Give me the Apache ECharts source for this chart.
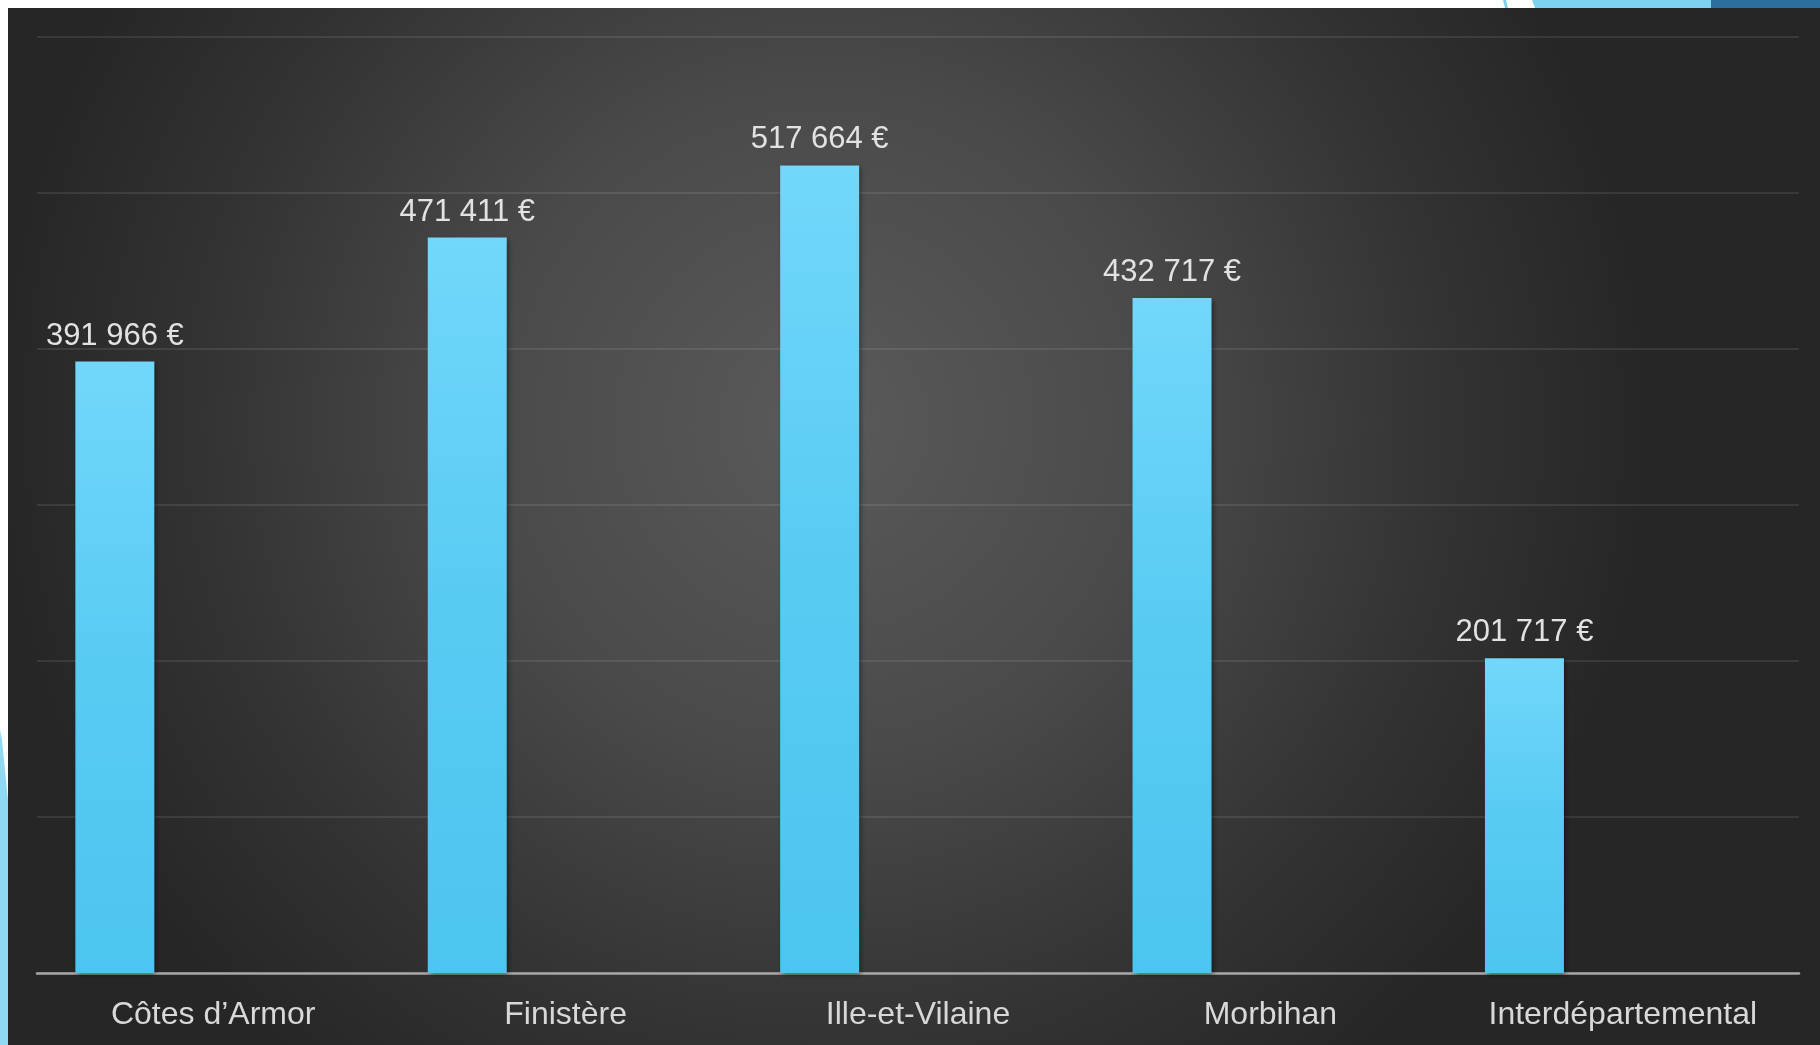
<!DOCTYPE html>
<html>
<head>
<meta charset="utf-8">
<style>
html,body{margin:0;padding:0;background:#ffffff;}
#chart{width:1820px;height:1045px;}
</style>
<script src="https://cdn.jsdelivr.net/npm/echarts@6/dist/echarts.min.js"></script>
</head>
<body>
<div id="chart"></div>
<script>
var categories = ['Côtes d\u2019Armor', 'Finistère', 'Ille-et-Vilaine', 'Morbihan', 'Interdépartemental'];
var montants = [391966, 471411, 517664, 432717, 201717];
var placeholder = [null, null, null, null, null];
var yMin = 0, yMax = 600000, yInterval = 100000;

function fmt(v) {
  return String(v).replace(/\B(?=(\d{3})+(?!\d))/g, ' ') + ' €';
}

var chart = echarts.init(document.getElementById('chart'));
var font = "'Liberation Sans', 'Noto Sans', sans-serif";

chart.setOption({
  backgroundColor: '#ffffff',
  animation: false,
  graphic: [
    { type: 'rect', z: -10, shape: { x: 8, y: 8, width: 1812, height: 1037 },
      style: { fill: new echarts.graphic.RadialGradient(0.45, 0.4, 0.8, [
        { offset: 0, color: '#5a5a5a' },
        { offset: 0.4, color: '#4a4a4a' },
        { offset: 0.75, color: '#333333' },
        { offset: 1, color: '#262626' }
      ]) } },
    { type: 'polygon', z: -9, shape: { points: [[1532, 0], [1711, 0], [1711, 8], [1535, 8]] }, style: { fill: '#7dd3ef' } },
    { type: 'polygon', z: -9, shape: { points: [[1711, 0], [1820, 0], [1820, 8], [1711, 8]] }, style: { fill: '#2b6f9f' } },
    { type: 'polygon', z: -9, shape: { points: [[1503, 0], [1506, 0], [1508, 8], [1505, 8]] }, style: { fill: '#7dd3ef' } },
    { type: 'polygon', z: -9, shape: { points: [[0, 730], [2, 740], [8, 800], [8, 1045], [0, 1045]] }, style: { fill: '#8fd9f3' } }
  ],
  grid: { left: 37, right: 21, top: 37, bottom: 72, containLabel: false },
  xAxis: {
    type: 'category',
    data: categories,
    boundaryGap: true,
    axisLine: { show: true, lineStyle: { color: '#a8a8a8', width: 2.5 } },
    axisTick: { show: false },
    axisLabel: { color: '#d8d8d8', fontSize: 32, fontFamily: font, margin: 26 },
    splitLine: { show: false }
  },
  yAxis: {
    type: 'value',
    min: yMin, max: yMax, interval: yInterval,
    axisLine: { show: false },
    axisTick: { show: false },
    axisLabel: { show: false },
    splitLine: { show: true, lineStyle: { color: 'rgba(255,255,255,0.09)', width: 2 } }
  },
  series: [
    {
      type: 'bar',
      data: montants,
      barWidth: 79,
      barGap: '149%',
      itemStyle: {
        color: new echarts.graphic.LinearGradient(0, 0, 0, 1, [
          { offset: 0, color: '#72d7fb' },
          { offset: 0.5, color: '#58cbf2' },
          { offset: 1, color: '#4cc5f0' }
        ]),
        shadowBlur: 5,
        shadowColor: 'rgba(0,0,0,0.45)',
        shadowOffsetX: 2,
        shadowOffsetY: 2
      },
      label: {
        show: true,
        position: 'top',
        distance: 10,
        color: '#e2e2e2',
        fontSize: 31,
        fontFamily: font,
        formatter: function (p) { return fmt(p.value); }
      }
    },
    {
      type: 'bar',
      data: placeholder,
      barWidth: 79,
      barGap: '149%'
    }
  ]
});
</script>
</body>
</html>
